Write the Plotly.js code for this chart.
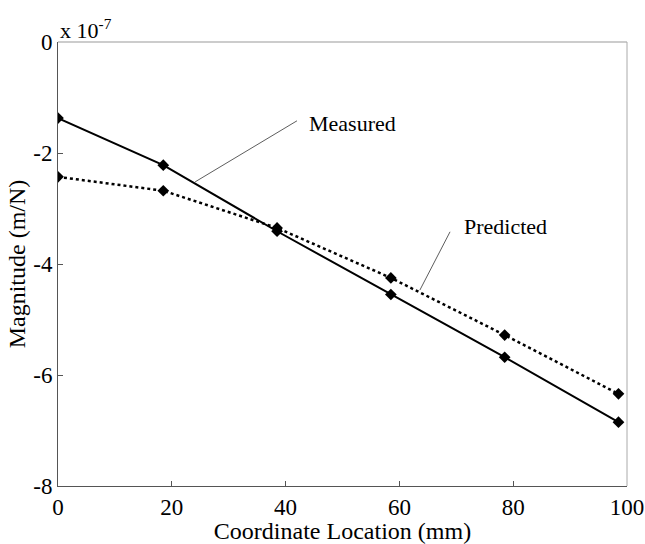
<!DOCTYPE html>
<html>
<head>
<meta charset="utf-8">
<script src="https://cdn.plot.ly/plotly-3.0.1.min.js"></script>
<style>html,body{margin:0;padding:0;background:#fff;}#chart{width:645px;height:544px;}</style>
</head>
<body>
<div id="chart"></div>
<script>
const xLoc = [0, 18.5, 38.5, 58.5, 78.5, 98.5];
const measured = [-1.37, -2.22, -3.41, -4.55, -5.68, -6.85];
const predicted = [-2.43, -2.68, -3.35, -4.25, -5.28, -6.34];
const xTicks = [0, 20, 40, 60, 80, 100];
const yTicks = [0, -2, -4, -6, -8];

const FONT = 'Liberation Serif, Times New Roman, serif';

const traces = [
  {x: xLoc, y: measured, type: 'scatter', mode: 'lines+markers', name: 'Measured',
   line: {color: '#000', width: 2, dash: 'solid'},
   marker: {symbol: 'diamond', size: 9, color: '#000'}},
  {x: xLoc, y: predicted, type: 'scatter', mode: 'lines+markers', name: 'Predicted',
   line: {color: '#000', width: 2.5, dash: 'dot'},
   marker: {symbol: 'diamond', size: 9, color: '#000'}}
];

const layout = {
  width: 645, height: 544,
  margin: {l: 58, r: 18, t: 42, b: 58},
  paper_bgcolor: '#fff', plot_bgcolor: '#fff',
  showlegend: false,
  font: {family: FONT, size: 22, color: '#000'},
  xaxis: {
    range: [0, 100], tickvals: xTicks, ticktext: xTicks.map(String),
    showgrid: false, zeroline: false, showline: true, linecolor: '#555', linewidth: 1,
    mirror: false, ticks: 'inside', ticklen: 5, tickcolor: '#555', automargin: false,
    tickfont: {family: FONT, size: 23}, ticklabelstandoff: 0,
    title: {text: 'Coordinate Location (mm)', font: {family: FONT, size: 24}, standoff: 0}
  },
  yaxis: {
    range: [-8, 0], tickvals: yTicks, ticktext: yTicks.map(String),
    showgrid: false, zeroline: false, showline: true, linecolor: '#555', linewidth: 1,
    mirror: false, ticks: 'inside', ticklen: 5, tickcolor: '#555', automargin: false,
    tickfont: {family: FONT, size: 23},
    title: {text: 'Magnitude (m/N)', font: {family: FONT, size: 24}, standoff: 0}
  },
  shapes: [
    {type: 'line', xref: 'paper', yref: 'paper', x0: 0, x1: 1, y0: 1, y1: 1,
     line: {color: '#999', width: 1}},
    {type: 'line', xref: 'paper', yref: 'paper', x0: 1, x1: 1, y0: 0, y1: 1,
     line: {color: '#aaa', width: 1}},
    {type: 'line', xref: 'x', yref: 'y', x0: 24.1, y0: -2.52, x1: 42.0, y1: -1.42,
     line: {color: '#333', width: 0.8}},
    {type: 'line', xref: 'x', yref: 'y', x0: 63.6, y0: -4.47, x1: 68.9, y1: -3.42,
     line: {color: '#333', width: 0.8}}
  ],
  annotations: [
    {xref: 'paper', yref: 'paper', x: 0, y: 1, xanchor: 'left', yanchor: 'bottom',
     xshift: 0, yshift: -3, showarrow: false,
     text: 'x 10<sup>-7</sup>', font: {family: FONT, size: 22}},
    {xref: 'x', yref: 'y', x: 51.7, y: -1.46, showarrow: false, text: 'Measured',
     font: {family: FONT, size: 22}},
    {xref: 'x', yref: 'y', x: 78.6, y: -3.33, showarrow: false, text: 'Predicted',
     font: {family: FONT, size: 22}}
  ]
};

Plotly.newPlot('chart', traces, layout, {displayModeBar: false, staticPlot: true});
</script>
</body>
</html>
